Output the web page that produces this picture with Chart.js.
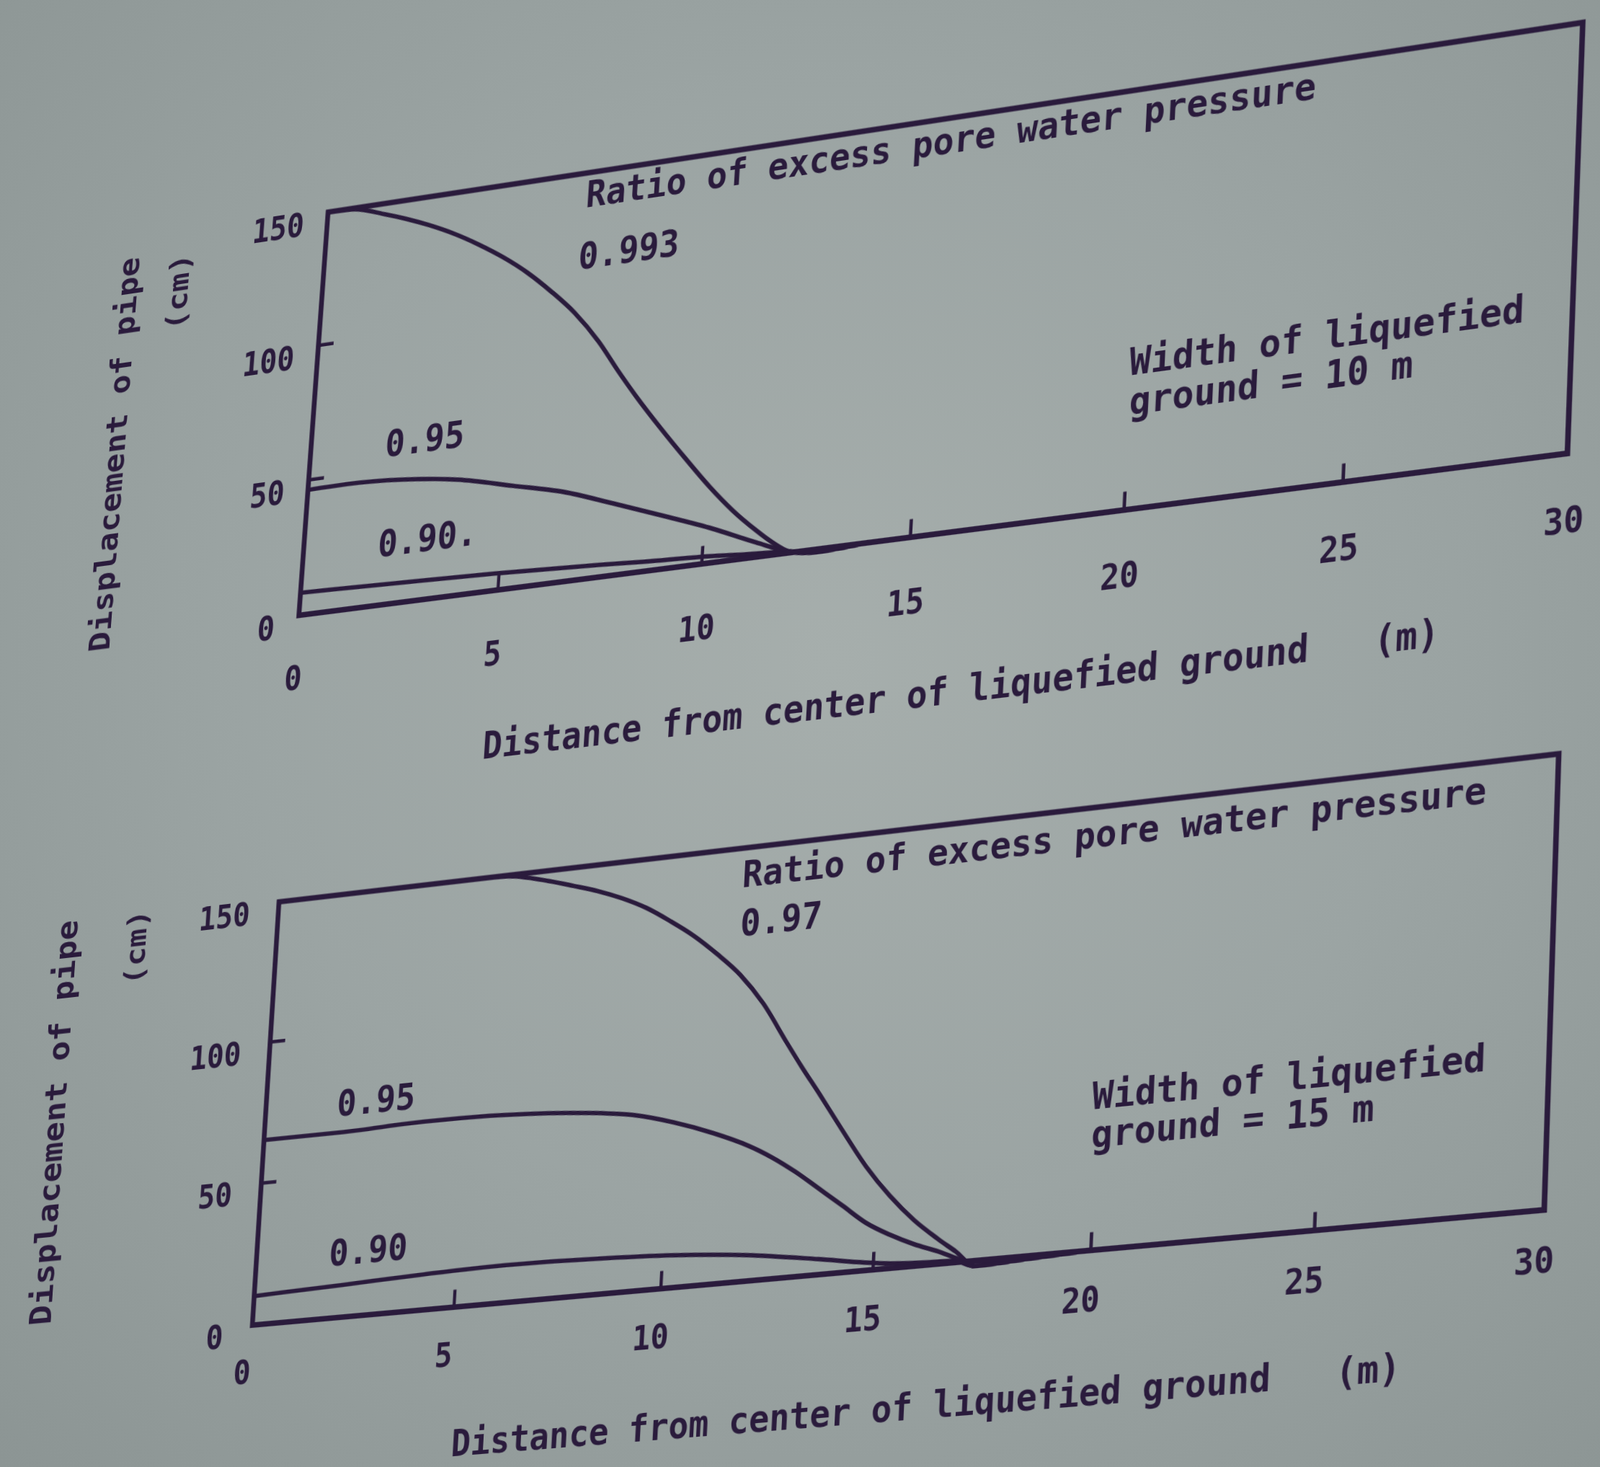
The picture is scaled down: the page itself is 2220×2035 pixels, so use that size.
<!DOCTYPE html>
<html>
<head>
<meta charset="utf-8">
<title>Displacement of pipe</title>
<script src="https://cdn.jsdelivr.net/npm/chart.js@4.4.1/dist/chart.umd.min.js"></script>
<style>
  html, body { margin: 0; padding: 0; overflow: hidden; }
  body {
    width: 2220px; height: 2035px; position: relative;
    background: radial-gradient(ellipse at 52% 45%, #a6aeac 0%, #9ba4a3 50%, #8c9594 100%);
  }
  .sheet { position: absolute; left: 0; top: 0; transform-origin: 0 0; }
</style>
</head>
<body>
<div class="sheet" id="sheetTop"><canvas id="chartTop" width="2160" height="910"></canvas></div>
<div class="sheet" id="sheetBottom"><canvas id="chartBottom" width="2200" height="930"></canvas></div>
<script>
// Values

// Axes
const xTicks = [0, 5, 10, 15, 20, 25, 30];
const yTicks = [0, 50, 100, 150];
const xTitle = 'Distance from center of liquefied ground   (m)';
const yTitle = ['Displacement of pipe', '(cm)'];

// Width of liquefied ground = 10 m
const w10_r0993_x = [0, 0.7, 1.5, 2.01, 2.63, 3.29, 3.93, 4.58, 5.21, 5.84, 6.47, 7.11, 7.63, 8.15, 8.79, 9.44, 10.07, 10.68, 11.27, 11.69, 12.1, 12.8, 14];
const w10_r0993_y = [150, 149.5, 145.8, 143.1, 139.3, 134.6, 129.2, 123, 116, 107.7, 98.4, 86.6, 75, 64, 51.4, 39.2, 27.8, 17.9, 9.7, 4.5, 0.5, -1, 0];
const w10_r095_x = [0, 1, 2.4, 3.8, 5.2, 6.49, 7.71, 8.93, 10.13, 11.29, 12.1, 12.8, 14];
const w10_r095_y = [46.3, 46.5, 45.4, 42.6, 37.6, 32.8, 26.3, 19.6, 12.8, 5.3, 0.5, -1, 0];
const w10_r090_x = [0, 2.5, 4.9, 7.5, 8.6, 10, 11, 11.8, 12.1, 12.8, 14];
const w10_r090_y = [8.3, 7.3, 6.2, 4.4, 3.5, 2.6, 1.5, 0.8, 0.5, -1, 0];

// Width of liquefied ground = 15 m
const w15_r097_x = [0, 2, 4, 5.2, 5.9, 6.74, 7.35, 7.95, 8.55, 9.16, 9.76, 10.35, 10.93, 11.51, 12.1, 12.69, 13.1, 13.53, 14.12, 14.72, 15.31, 15.9, 16.49, 16.9, 17.36, 18.5, 20];
const w15_r097_y = [150, 150, 150, 150, 149.3, 146.3, 143.6, 140.8, 137.3, 132.9, 127.3, 121.2, 114, 105.9, 95, 81, 71.5, 62, 48.6, 35.4, 24.6, 15.6, 8.3, 3.7, -1.8, -1, 0];
const w15_r095_x = [0, 1.9, 4, 6, 8, 9.1, 10.1, 11.05, 11.93, 12.49, 13.06, 13.64, 14.21, 14.78, 15.35, 15.93, 16.5, 16.9, 17.36, 18.5, 20];
const w15_r095_y = [65.2, 65.2, 66, 65.5, 63.3, 61, 57, 52, 46.3, 41.6, 35.9, 29.3, 22.8, 16.2, 11.4, 7.4, 4.2, 1.5, -1.8, -1, 0];
const w15_r090_x = [0, 2.2, 4.2, 6.2, 8.3, 10.3, 12, 13.7, 14.8, 15.4, 16.2, 16.9, 17.36, 18.5, 20];
const w15_r090_y = [10.2, 11.3, 12.4, 13, 12.4, 11.1, 8.9, 5.3, 2.7, 1.6, 0.9, 0.5, -1.8, -1, 0];

// Labels written inside the plots (anchored in data units)
const notesTop = [
  { text: 'Ratio of excess pore water pressure', x: 6.56, y: 137 },
  { text: '0.993', x: 6.47, y: 114.4 },
  { text: '0.95', x: 1.9, y: 54.7 },
  { text: '0.90.', x: 1.89, y: 17.7 },
  { text: 'Width of liquefied', x: 19.96, y: 47.5 },
  { text: 'ground = 10 m', x: 20, y: 33.4 }
];
const notesBottom = [
  { text: 'Ratio of excess pore water pressure', x: 11.44, y: 136.4 },
  { text: '0.97', x: 11.45, y: 119.3 },
  { text: '0.95', x: 1.79, y: 71 },
  { text: '0.90', x: 1.82, y: 18.2 },
  { text: 'Width of liquefied', x: 19.88, y: 47.4 },
  { text: 'ground = 15 m', x: 19.9, y: 34.4 }
];

const INK = '#2a1b3c';
const FONT = "'DejaVu Sans Mono', monospace";

function zip(xs, ys) {
  return xs.map((x, i) => ({ x: x, y: ys[i] }));
}

// least-squares plane-to-photo homography from point pairs [sx, sy, px, py, weight]
function fitHomography(pairs) {
  const N = Array.from({ length: 8 }, () => new Array(9).fill(0));
  pairs.forEach(([x, y, u, v, w]) => {
    const rows = [
      [x, y, 1, 0, 0, 0, -x * u, -y * u, u],
      [0, 0, 0, x, y, 1, -x * v, -y * v, v]
    ];
    rows.forEach(r => {
      for (let i = 0; i < 8; i++) {
        for (let j = 0; j < 9; j++) N[i][j] += w * r[i] * r[j];
      }
    });
  });
  for (let c = 0; c < 8; c++) {
    let p = c;
    for (let r = c + 1; r < 8; r++) if (Math.abs(N[r][c]) > Math.abs(N[p][c])) p = r;
    [N[c], N[p]] = [N[p], N[c]];
    for (let r = 0; r < 8; r++) {
      if (r === c) continue;
      const f = N[r][c] / N[c][c];
      for (let k = c; k < 9; k++) N[r][k] -= f * N[c][k];
    }
  }
  return N.map((row, i) => row[8] / row[i]);
}

// box around the plot plus the short inward tick marks
const paperFrame = {
  id: 'paperFrame',
  afterDatasetsDraw(chart) {
    const { ctx, chartArea: a, scales: { x, y } } = chart;
    ctx.save();
    ctx.strokeStyle = INK;
    ctx.lineWidth = 7;
    ctx.lineJoin = 'miter';
    ctx.strokeRect(a.left, a.top, a.right - a.left, a.bottom - a.top);
    ctx.lineWidth = 4.5;
    ctx.beginPath();
    x.ticks.forEach(t => {
      if (t.value <= x.min || t.value >= x.max) return;
      const px = x.getPixelForValue(t.value);
      ctx.moveTo(px, a.bottom);
      ctx.lineTo(px, a.bottom - 22);
    });
    y.ticks.forEach(t => {
      if (t.value <= y.min || t.value >= y.max) return;
      const py = y.getPixelForValue(t.value);
      ctx.moveTo(a.left, py);
      ctx.lineTo(a.left + 22, py);
    });
    ctx.stroke();
    ctx.restore();
  }
};

function makeNotes(notes, look) {
  return {
    id: 'paperNotes',
    afterDraw(chart) {
      const { ctx, chartArea: a, scales: { x, y } } = chart;
      const h = a.bottom - a.top;
      ctx.save();
      ctx.fillStyle = INK;
      ctx.font = 'bold 47px ' + FONT;
      ctx.textAlign = 'left';
      ctx.textBaseline = 'alphabetic';
      notes.forEach(n => ctx.fillText(n.text, x.getPixelForValue(n.x), y.getPixelForValue(n.y)));

      ctx.font = 'bold 46px ' + FONT;
      ctx.textAlign = 'center';
      ctx.textBaseline = 'middle';
      ctx.fillText(xTitle, (a.left + a.right) / 2 + look.xTitleShift, a.bottom + look.xTitleDrop);

      ctx.textAlign = 'right';
      yTitle.forEach((line, i) => {
        const t = look.yTitle[i];
        ctx.save();
        ctx.font = 'bold ' + t.size + 'px ' + FONT;
        ctx.translate(a.left - t.dx, a.bottom - t.top * h);
        ctx.rotate(-Math.PI / 2);
        ctx.fillText(line, 0, 0);
        ctx.restore();
      });
      ctx.restore();
    }
  };
}

// tilt the finished canvas so the plot lands where it sits in the photo
function makeWarp(sheetId, anchors) {
  let done = false;
  return {
    id: 'paperWarp',
    afterRender(chart) {
      if (done) return;
      done = true;
      const { x, y } = chart.scales;
      const pairs = anchors.map(([dx, dy, px, py, w]) =>
        [x.getPixelForValue(dx), y.getPixelForValue(dy), px, py, w]);
      const h = fitHomography(pairs);
      document.getElementById(sheetId).style.transform =
        `matrix3d(${h[0]},${h[3]},0,${h[6]},${h[1]},${h[4]},0,${h[7]},0,0,1,0,${h[2]},${h[5]},0,1)`;
    }
  };
}

function createPipeChart(canvasId, sheetId, series, notes, look) {
  const ctx = document.getElementById(canvasId);
  if (!ctx) return null;
  const tickFont = { family: FONT, size: 42, weight: 'bold' };

  return new Chart(ctx, {
    type: 'line',
    data: {
      datasets: series.map(s => ({
        label: s.label,
        data: zip(s.x, s.y),
        borderColor: INK,
        borderWidth: 5.5,
        pointRadius: 0,
        fill: false,
        cubicInterpolationMode: 'monotone',
        clip: { left: 0, top: 0, right: 0, bottom: 14 }
      }))
    },
    options: {
      responsive: false,
      animation: false,
      devicePixelRatio: 1,
      layout: { padding: look.padding },
      plugins: {
        legend: { display: false },
        tooltip: { enabled: false },
        title: { display: false }
      },
      scales: {
        x: {
          type: 'linear',
          min: 0,
          max: 30,
          afterBuildTicks: axis => { axis.ticks = xTicks.map(v => ({ value: v })); },
          grid: { display: false, drawTicks: false },
          border: { display: false },
          ticks: {
            color: INK, font: tickFont, padding: look.xPad, labelOffset: look.xShift,
            maxRotation: 0, autoSkip: false
          }
        },
        y: {
          type: 'linear',
          min: 0,
          max: 150,
          afterBuildTicks: axis => { axis.ticks = yTicks.map(v => ({ value: v })); },
          grid: { display: false, drawTicks: false },
          border: { display: false },
          ticks: { color: INK, font: tickFont, padding: look.yPad, labelOffset: 15 }
        }
      }
    },
    plugins: [paperFrame, makeNotes(notes, look), makeWarp(sheetId, look.anchors)]
  });
}

createPipeChart('chartTop', 'sheetTop', [
  { label: '0.993', x: w10_r0993_x, y: w10_r0993_y },
  { label: '0.95', x: w10_r095_x, y: w10_r095_y },
  { label: '0.90', x: w10_r090_x, y: w10_r090_y }
], notesTop, {
  padding: { left: 230, right: 60, top: 70, bottom: 163 },
  xPad: 57,
  xShift: -2,
  yPad: 34,
  xTitleShift: 62,
  xTitleDrop: 196,
  yTitle: [{ dx: 287, top: 0.96, size: 42 }, { dx: 211, top: 0.95, size: 41 }],
  anchors: [
    [0, 150, 453.3, 292.4, 2], [30, 150, 2196.7, 33.5, 2],
    [30, 0, 2176.7, 627.2, 2], [0, 0, 415, 854.9, 2],
    [5, 0, 688.6, 819.7, 1], [10, 0, 969.2, 783.3, 1], [15, 0, 1264.6, 745.1, 1],
    [20, 0, 1560.3, 706.9, 1], [25, 0, 1860.0, 667.9, 1],
    [0, 50, 434.9, 667.4, 1], [0, 100, 443.3, 477.7, 1]
  ]
});

createPipeChart('chartBottom', 'sheetBottom', [
  { label: '0.97', x: w15_r097_x, y: w15_r097_y },
  { label: '0.95', x: w15_r095_x, y: w15_r095_y },
  { label: '0.90', x: w15_r090_x, y: w15_r090_y }
], notesBottom, {
  padding: { left: 230, right: 60, top: 70, bottom: 187 },
  xPad: 38,
  xShift: -11,
  yPad: 42,
  xTitleShift: 62,
  xTitleDrop: 176,
  yTitle: [{ dx: 312, top: 1.014, size: 44 }, { dx: 207, top: 1.02, size: 41 }],
  anchors: [
    [0, 150, 386.1, 1251.4, 2], [30, 150, 2163.3, 1045.9, 2],
    [30, 0, 2143.3, 1678.6, 2], [0, 0, 348.8, 1838.5, 2],
    [5, 0, 628.3, 1813.8, 1], [10, 0, 914.2, 1788.3, 1], [15, 0, 1216.7, 1761.5, 1],
    [20, 0, 1513.4, 1735.1, 1], [25, 0, 1822.7, 1707.6, 1],
    [0, 50, 368.9, 1639.8, 1], [0, 100, 374.6, 1445.6, 1]
  ]
});
</script>
</body>
</html>
